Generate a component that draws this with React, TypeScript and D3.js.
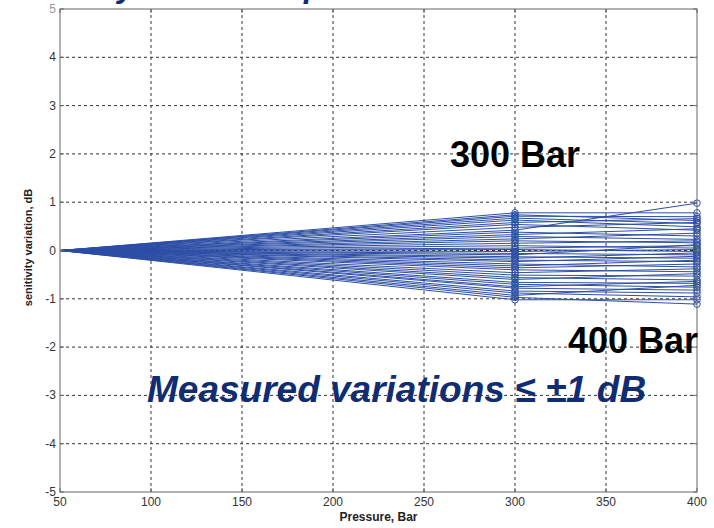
import React from 'react';
import { scaleLinear, line } from 'd3';

// pressure steps (Bar) where each hydrophone was measured
const pressures = [50, 300, 400];

// sensitivity variation (dB) at 300 Bar and 400 Bar, one entry per hydrophone; 50 Bar is the 0 dB reference
const at300 = [
	0.78, 0.74, 0.71, 0.67, 0.63, 0.58, 0.54, 0.48, 0.42, 0.38, 0.33, 0.29, 0.24, 0.2,
	0.15, 0.1, 0.05, 0.02, -0.02, -0.06, -0.09, -0.13, -0.16, -0.2, -0.23, -0.28, -0.32,
	-0.36, -0.4, -0.46, -0.51, -0.56, -0.6, -0.66, -0.7, -0.75, -0.78, -0.84, -0.88,
	-0.93, -0.97, -1.02,
];
const at400 = [
	0.78, 0.62, 0.7, 0.56, 0.49, 0.66, 0.42, 0.58, 0.98, 0.3, 0.45, 0.23, 0.36, 0.16,
	0.2, 0.05, 0.1, -0.02, 0.02, -0.09, 0.12, -0.16, -0.05, -0.23, -0.12, -0.34, -0.2,
	-0.28, -0.44, -0.38, -0.53, -0.61, -0.48, -0.68, -0.76, -0.64, -0.82, -0.88, -0.96,
	-0.72, -1.11, -1.02,
];

const xTicks = [50, 100, 150, 200, 250, 300, 350, 400];
const yTicks = [-5, -4, -3, -2, -1, 0, 1, 2, 3, 4, 5];

const W = 714;
const H = 528;
const margin = { top: 9, right: 17, bottom: 36, left: 60 };

const blue = '#2d4ea6';
const navy = '#102c72';
const tickFont = "'Liberation Sans Narrow', 'Arial Narrow', 'Liberation Sans', Arial, sans-serif";
const bigFont = "'Liberation Sans', Arial, sans-serif";

const App = () => {
	const x = scaleLinear().domain([50, 400]).range([margin.left, W - margin.right]);
	const y = scaleLinear().domain([-5, 5]).range([H - margin.bottom, margin.top]);

	const series = at300.map((v, i) => [0, v, at400[i]]);
	const path = line<number>()
		.x((d, i) => x(pressures[i]))
		.y((d) => y(d));

	const x0 = x(50);
	const x1 = x(400);
	const y0 = y(-5);
	const y1 = y(5);

	return (
		<svg width={W} height={H} style={{ position: 'absolute', left: 0, top: 0, background: '#fff' }}>
			{/* title, cut off by the top of the slide */}
			<text
				x={-25}
				y={-3}
				fontFamily={bigFont}
				fontSize={32}
				fontWeight="bold"
				fontStyle="italic"
				fill={navy}
			>
				Sensitivity relative to pressure at 50 Bar
			</text>

			{/* grid */}
			<g stroke="#333" strokeWidth={1} strokeDasharray="3,3" fill="none">
				{xTicks.slice(1, -1).map((t) => (
					<line key={'gx' + t} x1={x(t)} x2={x(t)} y1={y1} y2={y0} />
				))}
				{yTicks.slice(1, -1).map((t) => (
					<line key={'gy' + t} x1={x0} x2={x1} y1={y(t)} y2={y(t)} />
				))}
			</g>

			{/* data lines */}
			<g fill="none" stroke={blue} strokeWidth={1}>
				{series.map((s, i) => (
					<path key={i} d={path(s) || ''} />
				))}
			</g>
			<g fill="none" stroke={blue} strokeWidth={1}>
				{series.map((s, i) =>
					s.slice(1).map((v, j) => (
						<circle key={i + '-' + j} cx={x(pressures[j + 1])} cy={y(v)} r={3.3} />
					))
				)}
			</g>

			{/* axes box and inward ticks */}
			<rect x={x0} y={y1} width={x1 - x0} height={y0 - y1} fill="none" stroke="#666" strokeWidth={1} />
			<g stroke="#666" strokeWidth={1}>
				{xTicks.map((t) => (
					<g key={'tx' + t}>
						<line x1={x(t)} x2={x(t)} y1={y0} y2={y0 - 4} />
						<line x1={x(t)} x2={x(t)} y1={y1} y2={y1 + 4} />
					</g>
				))}
				{yTicks.map((t) => (
					<g key={'ty' + t}>
						<line x1={x0} x2={x0 + 4} y1={y(t)} y2={y(t)} />
						<line x1={x1} x2={x1 - 4} y1={y(t)} y2={y(t)} />
					</g>
				))}
			</g>

			{/* tick labels */}
			<g fontFamily={tickFont} fontSize={12} fill="#333">
				{xTicks.map((t) => (
					<text key={'lx' + t} x={x(t)} y={y0 + 14} textAnchor="middle">
						{t}
					</text>
				))}
				{yTicks.map((t) => (
					<text key={'ly' + t} x={x0 - 4} y={y(t) + 4} textAnchor="end" fill={t === 5 ? '#999' : '#333'}>
						{t}
					</text>
				))}
			</g>

			{/* axis labels */}
			<text
				x={(x0 + x1) / 2}
				y={H - 7}
				textAnchor="middle"
				fontFamily={tickFont}
				fontSize={12}
				fontWeight="bold"
				fill="#222"
			>
				Pressure, Bar
			</text>
			<text
				transform={`translate(32, ${y(0) - 3}) rotate(-90)`}
				textAnchor="middle"
				fontFamily={tickFont}
				fontSize={11}
				fontWeight="bold"
				fill="#222"
			>
				senitivity variation, dB
			</text>

			{/* slide annotations */}
			<g fontFamily={bigFont} fontWeight="bold">
				<text x={450} y={167} fontSize={36} fill="#000">
					300 Bar
				</text>
				<text x={698} y={353} fontSize={36} fill="#000" textAnchor="end">
					400 Bar
				</text>
				<text x={147} y={402} fontSize={37} fontStyle="italic" fill={navy}>
					Measured variations ≤ ±1 dB
				</text>
			</g>
		</svg>
	);
};

export default App;
